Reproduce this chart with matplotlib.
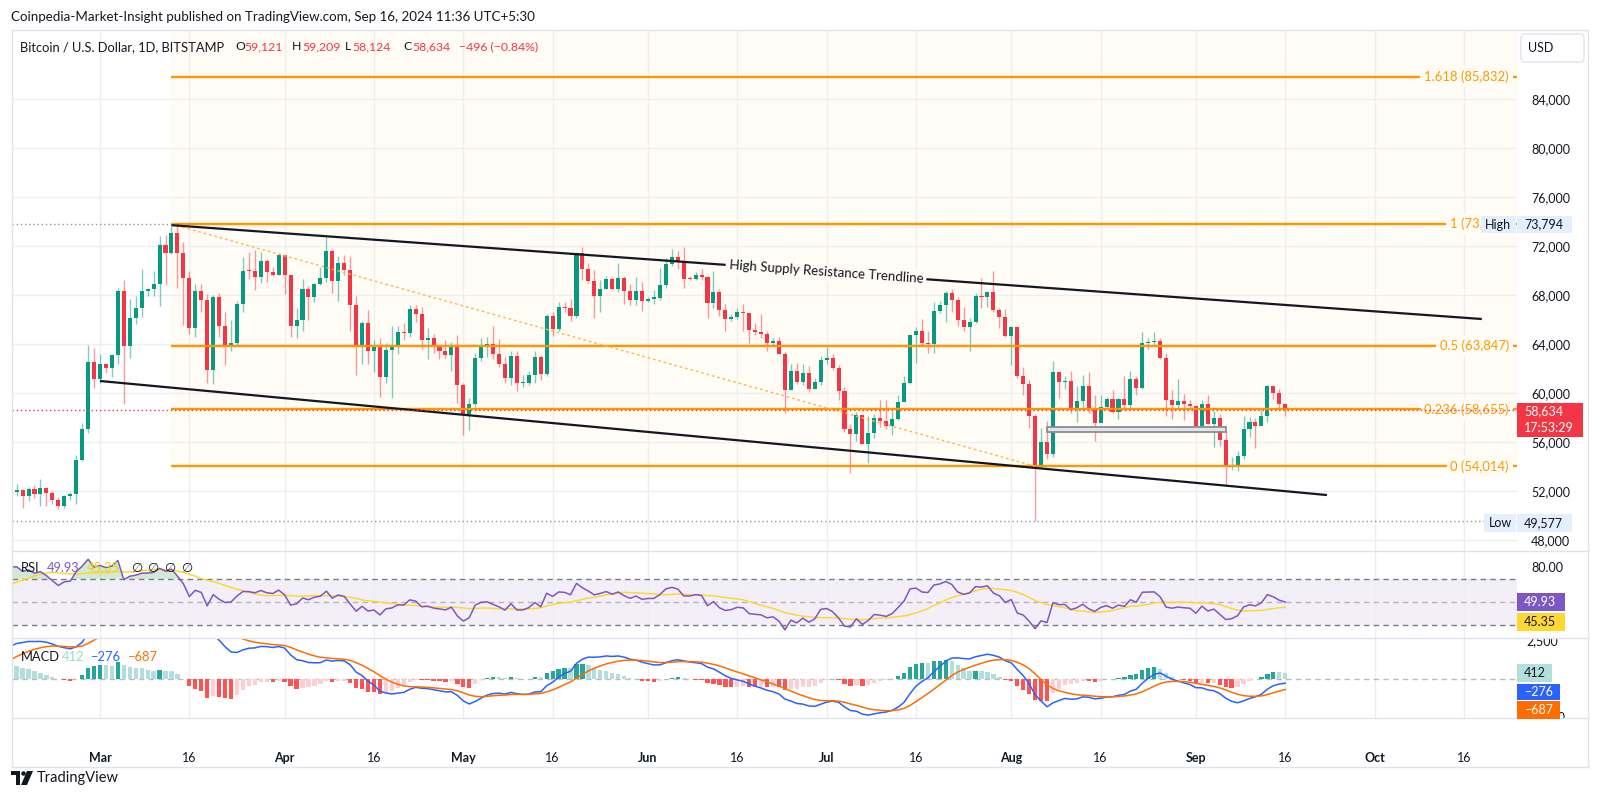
import numpy as np
import pandas as pd
import matplotlib
matplotlib.use("Agg")
import matplotlib.pyplot as plt
import matplotlib.dates as mdates
import matplotlib.transforms as mtransforms
from matplotlib.patches import Rectangle, Polygon, Ellipse, FancyBboxPatch
from matplotlib.lines import Line2D

plt.rcParams['font.family'] = ['Lato', 'DejaVu Sans']

# ---- data (BTC/USD daily, Bitstamp) ----
# closes Jan 1 - Feb 14 2024, only used to warm up RSI / MACD
warmup_close = [44180, 44950, 42850, 44180, 44160, 43970, 43930, 46970, 46120, 46660,
                46390, 42850, 42840, 41750, 42500, 43150, 42740, 41290, 41620, 41700,
                41580, 39550, 39900, 40100, 39950, 41800, 42120, 42030, 43300, 42950,
                42580,
                43080, 43200, 43000, 42580, 42700, 43100, 44340, 45300, 47150, 47770,
                48300, 49960, 49700, 51800]

# Feb 15 - Sep 16 2024
close = [51900, 52100, 51600, 52130, 51780, 52260, 51850, 51300, 50750, 51570, 51730, 54500, 57050, 62500, 61150,
         # Mar
         62400, 62030, 63130, 68300, 63800, 66100, 66900, 68300, 68450, 68900, 72100, 71450, 73050, 71400, 69400,
         65300, 68350, 67600, 61900, 67800, 65500, 63800, 64050, 67250, 70000, 69950, 69450, 70750, 69900, 69650, 71300,
         # Apr
         69650, 65450, 65970, 68500, 67840, 68900, 69360, 71620, 69150, 70580, 70060, 67200, 63850, 65740, 63420,
         63800, 61280, 63510, 63830, 64990, 64930, 66840, 66410, 64290, 64500, 63770, 63460, 63120, 63840, 60630,
         # May
         58250, 59120, 62890, 63890, 64030, 63160, 62330, 61190, 63050, 60790, 60800, 61450, 62900, 61550, 66250,
         65230, 67050, 66940, 66270, 71450, 70140, 69120, 67930, 68530, 69290, 68500, 69400, 68360, 67630, 68350, 67490,
         # Jun
         67710, 67750, 68800, 70570, 71080, 70760, 69340, 69300, 69650, 69500, 67320, 68240, 66750, 66010, 66190,
         66640, 66490, 65140, 64960, 64830, 64100, 64250, 63180, 60280, 61800, 60860, 61670, 60320, 60890, 62680,
         # Jul
         62850, 62030, 60200, 57050, 56660, 58230, 55850, 56700, 58000, 57750, 57340, 57900, 59230, 60800, 64720,
         65040, 64100, 63970, 66700, 67150, 68180, 67580, 65930, 65370, 65800, 67910, 67810, 68250, 66780, 66200, 64620,
         # Aug
         65360, 61420, 60700, 58120, 53990, 56030, 55030, 61710, 60880, 60940, 58710, 59350, 60600, 58740, 57560,
         58870, 59480, 58480, 59490, 59010, 61160, 60380, 64100, 64180, 64250, 62870, 59430, 59030, 59370, 59120, 58970,
         # Sep
         57300, 59130, 57480, 57970, 56160, 53950, 54160, 54840, 57040, 57650, 57340, 58130, 60570, 60000, 59121, 58634]

high = [52800, 52550, 52150, 52350, 52450, 52950, 52350, 52000, 51500, 51700, 51950, 54900, 57550, 63900, 63650,
        63150, 62450, 63200, 68550, 69200, 67650, 67900, 70150, 68550, 69950, 72800, 72900, 73650, 73794, 72350,
        70000, 68900, 68900, 68100, 68000, 68200, 66650, 65950, 67550, 71100, 71550, 71700, 71500, 70950, 70300, 71400,
        71300, 69650, 66900, 69300, 68700, 69000, 70300, 72700, 71750, 71200, 71250, 71200, 67900, 65850, 66800,
        64350, 64450, 64100, 65450, 65450, 65700, 67200, 67200, 67050, 65300, 64800, 63900, 64350, 64200, 64700,
        60800, 59600, 63300, 64500, 64600, 65500, 64400, 62950, 63450, 63450, 61500, 61800, 63400, 63100, 66450,
        66650, 67400, 67400, 67650, 71500, 71950, 70600, 70050, 69200, 69550, 69500, 70600, 69550, 68900, 69500, 69050,
        67850, 68400, 70200, 71050, 71750, 71600, 71950, 69550, 69900, 70150, 69550, 69950, 68450, 67300, 66450,
        66950, 67250, 66500, 65750, 66450, 65050, 64500, 64550, 63350, 62350, 62450, 62350, 62200, 61200, 63050,
        63750, 63200, 62250, 60500, 57500, 58450, 58250, 58150, 58250, 59450, 59400, 58500, 59800, 61400, 64850,
        65350, 66050, 65100, 67400, 67550, 68350, 68450, 67800, 67050, 66150, 68200, 69350, 68300, 70000, 66950, 66850,
        65500, 65100, 62100, 61100, 58300, 57150, 57700, 62650, 61700, 61400, 61800, 60600, 61500, 61750, 59800,
        59800, 59650, 60250, 59600, 61400, 61800, 61400, 64950, 64500, 65000, 64450, 63250, 60250, 61150, 59900, 59450,
        59050, 59450, 59800, 58500, 58300, 56950, 54800, 55300, 58100, 58050, 57950, 58600, 60650, 60600, 60350, 59209]

low = [51350, 51600, 50650, 51200, 51450, 50750, 50800, 50900, 50550, 50600, 51300, 50900, 54450, 56700, 60400,
       60800, 61600, 61300, 62400, 59100, 62850, 65600, 66200, 67900, 67950, 67100, 68850, 71350, 68600, 65550,
       64800, 64550, 66600, 60800, 60750, 64550, 62300, 63400, 63850, 66600, 69300, 68400, 68950, 69100, 69550, 69650,
       68100, 64550, 64500, 65100, 66000, 67450, 68850, 69100, 68200, 67500, 69600, 65100, 61500, 62400, 62350,
       61700, 59700, 60850, 59600, 63200, 64300, 64550, 65800, 63600, 62800, 63300, 62800, 62850, 61800, 59200,
       56550, 56950, 58850, 62600, 62950, 62750, 62100, 60850, 60650, 60200, 60450, 60650, 60800, 61100, 61350,
       64650, 65100, 66650, 65850, 66100, 69200, 68950, 66150, 66650, 68500, 68400, 68250, 67300, 67150, 67150, 66700,
       67450, 67300, 67600, 68600, 70400, 70150, 68550, 69200, 69200, 69250, 66100, 66900, 66300, 65100, 65900,
       66050, 65100, 64100, 64700, 64500, 63400, 63950, 63150, 58400, 60250, 60700, 60650, 60050, 60350, 60650,
       62350, 61850, 59450, 56800, 53500, 56050, 55800, 54300, 56300, 57200, 57050, 56600, 57800, 59300, 60700,
       62450, 63900, 63300, 63300, 66500, 65800, 66600, 65450, 65100, 63450, 65750, 66900, 67050, 66600, 65300, 64550,
       62300, 61250, 59850, 57150, 49577, 54000, 54600, 54750, 59600, 60300, 58400, 57650, 58500, 58400, 56100,
       57750, 58800, 58400, 57850, 58600, 58800, 59800, 60350, 63600, 63800, 62750, 58100, 57900, 58800, 57800, 58750,
       57200, 57150, 57450, 55600, 55700, 52550, 53750, 53650, 54600, 56400, 55550, 57350, 57650, 59500, 58700, 58124]

dates = pd.date_range('2024-02-15', periods=len(close), freq='D')

fib_names = ['1.618', '1', '0.5', '0.236', '0']
fib_prices = [85832, 73794, 63847, 58655, 54014]
fib_start = '2024-03-13'
fib_diag = (('2024-03-13', 73794), ('2024-08-05', 54014))

upper_trend = (('2024-03-13', 73700), ('2024-10-19', 66040))
lower_trend = (('2024-03-01', 60980), ('2024-09-23', 51670))
support_box = ('2024-08-07', '2024-09-06', 56820, 57230)

price_ticks = list(range(48000, 84001, 4000))
tick_days = ['2024-03-01', '2024-03-16', '2024-04-01', '2024-04-16', '2024-05-01', '2024-05-16',
             '2024-06-01', '2024-06-16', '2024-07-01', '2024-07-16', '2024-08-01', '2024-08-16',
             '2024-09-01', '2024-09-16', '2024-10-01', '2024-10-16']
tick_labels = ['Mar', '16', 'Apr', '16', 'May', '16', 'Jun', '16', 'Jul', '16', 'Aug', '16',
               'Sep', '16', 'Oct', '16']

high_val, low_val, last_val = 73794, 49577, 58634

# ---- colours ----
UP, DN = '#089981', '#f23645'
ORANGE = '#ff9800'
CREAM = '#fffcf5'
GRID = '#eeeeee'
TXT = '#131722'
FRAME = '#e0e3eb'

# ---- indicators ----
all_close = np.array(warmup_close + close, dtype=float)
nw = len(warmup_close)
delta = np.diff(all_close)
gain = np.clip(delta, 0, None)
loss = np.clip(-delta, 0, None)


def rma(x, n):
    out = np.full(len(x), np.nan)
    out[n - 1] = x[:n].mean()
    for i in range(n, len(x)):
        out[i] = (out[i - 1] * (n - 1) + x[i]) / n
    return out


rsi_full = 100 - 100 / (1 + rma(gain, 14) / rma(loss, 14))
rsi_full = np.concatenate([[np.nan], rsi_full])
rsi_ma_full = pd.Series(rsi_full).rolling(14).mean().values
s = pd.Series(all_close)
macd_full = (s.ewm(span=12, adjust=False).mean() - s.ewm(span=26, adjust=False).mean()).values
sig_full = pd.Series(macd_full).ewm(span=9, adjust=False).mean().values
hist_full = macd_full - sig_full

rsi = rsi_full[nw:]
rsi_ma = rsi_ma_full[nw:]
macd = macd_full[nw:]
sig = sig_full[nw:]
hist = hist_full[nw:]
hprev = hist_full[nw - 1:-1]

opn = all_close[nw - 1:-1]
c = np.array(close, float)
hi = np.array(high, float)
lo = np.array(low, float)

# ---- figure / layout ----
W, H = 1600, 796
fig = plt.figure(figsize=(W / 100, H / 100), dpi=100)
fig.patch.set_facecolor('white')


def fx(px):
    return px / W


def fy(py):
    return 1 - py / H


L, R = 12, 1517
ax = fig.add_axes([fx(L), fy(551), fx(R) - fx(L), fy(30) - fy(551)])
ax_rsi = fig.add_axes([fx(L), fy(638), fx(R) - fx(L), fy(551) - fy(638)], sharex=ax)
ax_macd = fig.add_axes([fx(L), fy(718), fx(R) - fx(L), fy(638) - fy(718)], sharex=ax)

xd = mdates.date2num(dates)
mar1 = mdates.date2num(pd.Timestamp('2024-03-01'))
ppd = 5.956  # pixels per day


def px2x(px):
    return mar1 + (px - 100) / ppd


def d2x(d):
    return mdates.date2num(pd.Timestamp(d))


xmin, xmax = px2x(L), px2x(R)
ymin, ymax = 47102, 89633
for a in (ax, ax_rsi, ax_macd):
    a.set_xlim(xmin, xmax)
    for sp in a.spines.values():
        sp.set_visible(False)
    a.tick_params(left=False, bottom=False, right=False, labelleft=False, labelbottom=False)
ax.set_ylim(ymin, ymax)
ax_rsi.set_ylim(18.7, 94.3)
ax_macd.set_ylim(-2566, 2697)

tick_x = [d2x(d) for d in tick_days]
for a in (ax, ax_rsi, ax_macd):
    for t in tick_x:
        a.axvline(t, color=GRID, lw=1, zorder=0.5)
for p in price_ticks:
    ax.axhline(p, color=GRID, lw=1, zorder=0.5)

# fib background + levels
ax.fill_between([d2x(fib_start), xmax], fib_prices[-1], ymax, color=CREAM, lw=0, zorder=0.2)
ax.axhline(high_val, color='#9598a1', lw=1, ls=(0, (1, 2)), zorder=2)
ax.axhline(low_val, color='#9598a1', lw=1, ls=(0, (1, 2)), zorder=2)

# candles
up = c >= opn
col = np.where(up, UP, DN)
ax.vlines(xd, lo, hi, colors=col, lw=1, alpha=0.5, zorder=3)
ax.bar(xd, np.maximum(np.abs(c - opn), 90), bottom=np.minimum(opn, c), width=0.68,
       color=col, lw=0, zorder=4)

ax.hlines(fib_prices, d2x(fib_start), xmax, color=ORANGE, lw=1.7, zorder=5)
(dx0, dp0), (dx1, dp1) = fib_diag
ax.plot([d2x(dx0), d2x(dx1)], [dp0, dp1], color='#ffb74d', lw=1, ls=(0, (2, 2)), zorder=5)

# labels sit in the chart; the "1" label runs under the High tag and is cut there
for name, p in zip(fib_names, fib_prices):
    right_edge = 1481 if p == high_val else 1517
    fib_clip = mtransforms.TransformedBbox(
        mtransforms.Bbox.from_extents(fx(12), fy(551), fx(right_edge), fy(30)), fig.transFigure)
    t = ax.text(px2x(1509), p, f'{name} ({p:,})', ha='right', va='center', color=ORANGE,
                fontsize=9.4, zorder=6,
                bbox=dict(boxstyle='square,pad=0.3', fc=CREAM, ec='none'))
    t.set_clip_path(None)
    t.set_clip_box(fib_clip)
    t.set_clip_on(True)

# trend lines
for (d0, p0), (d1, p1) in (upper_trend, lower_trend):
    ax.plot([d2x(d0), d2x(d1)], [p0, p1], color=TXT, lw=1.6, zorder=6, solid_capstyle='butt')
(u0, up0), (u1, up1) = upper_trend
a0 = ax.transData.transform((d2x(u0), up0))
a1 = ax.transData.transform((d2x(u1), up1))
ang = np.degrees(np.arctan2(a1[1] - a0[1], a1[0] - a0[0]))
tx = px2x(826)
ty = up0 + (tx - d2x(u0)) * (up1 - up0) / (d2x(u1) - d2x(u0))
ax.text(tx, ty, 'High Supply Resistance Trendline', rotation=ang, rotation_mode='anchor',
        ha='center', va='center', fontsize=9.5, color=TXT, zorder=7,
        bbox=dict(boxstyle='square,pad=0.25', fc=CREAM, ec='none'))

b0, b1, bp0, bp1 = support_box
ax.add_patch(Rectangle((d2x(b0), bp0), d2x(b1) - d2x(b0), bp1 - bp0, fc='#e3e4e8',
                       ec='#8a8d96', lw=1.3, zorder=6))

ax.axhline(last_val, color=DN, lw=1, ls=(0, (1, 2)), zorder=8)

ax.yaxis.tick_right()
ax.set_yticks(price_ticks)
ax.set_yticklabels([f'{p:,}' for p in price_ticks])
ax.tick_params(axis='y', right=False, labelright=True, pad=6.5, labelsize=9, labelcolor=TXT)

# RSI panel
ax_rsi.axhspan(30, 70, color='#7e57c2', alpha=0.09, lw=0, zorder=0.3)
for lvl, al in ((70, 1), (50, 0.5), (30, 1)):
    ax_rsi.axhline(lvl, color='#787b86', lw=1, ls=(0, (4, 3)), alpha=al, zorder=1)
ax_rsi.fill_between(xd, 70, rsi, where=rsi > 70, interpolate=True, color='#4caf50', alpha=0.25, lw=0)
ax_rsi.fill_between(xd, 30, rsi, where=rsi < 30, interpolate=True, color='#f23645', alpha=0.25, lw=0)
ax_rsi.plot(xd, rsi_ma, color='#fdd835', lw=1.1, zorder=3)
ax_rsi.plot(xd, rsi, color='#7e57c2', lw=1.1, zorder=4)
ax_rsi.yaxis.tick_right()
ax_rsi.set_yticks([80])
ax_rsi.set_yticklabels(['80.00'])
ax_rsi.tick_params(axis='y', right=False, labelright=True, pad=6.5, labelsize=9, labelcolor=TXT)

# MACD panel
hcol = np.where(hist >= 0, np.where(hist >= hprev, '#26a69a', '#b2dfdb'),
                np.where(hist < hprev, '#ff5252', '#ffcdd2'))
ax_macd.axhline(0, color='#787b86', lw=1, ls=(0, (4, 3)), alpha=0.5, zorder=1)
ax_macd.bar(xd, hist, width=0.72, color=hcol, lw=0, zorder=2)
ax_macd.plot(xd, macd, color='#2962ff', lw=1.1, zorder=3)
ax_macd.plot(xd, sig, color='#ff6d00', lw=1.1, zorder=3)

ax_macd.set_xticks(tick_x)
ax_macd.set_xticklabels(tick_labels)
ax_macd.tick_params(axis='x', bottom=False, labelbottom=True, pad=21, labelsize=9, labelcolor=TXT)
for lbl in ax_macd.get_xticklabels():
    if not lbl.get_text().isdigit():
        lbl.set_fontweight('bold')


def vpy(a, v):
    """value -> pixel row (from top) in panel a"""
    return H - a.transData.transform((xmin, v))[1]


# clipped macd axis labels
clip = mtransforms.TransformedBbox(mtransforms.Bbox.from_extents(fx(1517), fy(718), fx(1590), fy(638)),
                                   fig.transFigure)
for v, s_ in ((2500, '2,500'), (-2500, '\u22122,500')):
    t = fig.text(fx(1526), fy(vpy(ax_macd, v)), s_, fontsize=9, color=TXT, va='center')
    t.set_clip_box(clip)
    t.set_clip_on(True)


def badge(x0, x1, y0, y1, fc, lines, tc, tx=None, fs=9):
    fig.add_artist(Rectangle((fx(x0), fy(y1)), fx(x1) - fx(x0), (y1 - y0) / H,
                             transform=fig.transFigure, fc=fc, ec='none', zorder=10))
    n = len(lines)
    for i, ln in enumerate(lines):
        yy = y0 + (y1 - y0) * (i + 0.5) / n
        fig.text(fx(tx if tx else x0 + 8), fy(yy), ln, color=tc, fontsize=fs, va='center', zorder=11)


yh = vpy(ax, high_val)
badge(1481, 1516, yh - 8, yh + 9, '#e3effd', ['High'], TXT, tx=1485)
badge(1517, 1572, yh - 8, yh + 9, '#e3effd', ['73,794'], TXT, tx=1524)
yl = vpy(ax, low_val)
badge(1484, 1516, yl - 7, yl + 11, '#e3effd', ['Low'], TXT, tx=1489)
badge(1517, 1572, yl - 7, yl + 11, '#e3effd', ['49,577'], TXT, tx=1524)
yp = vpy(ax, last_val)
badge(1517, 1583, yp - 7, yp + 27, DN, ['58,634', '17:53:29'], 'white', tx=1524)

yr = vpy(ax_rsi, 49.93)
badge(1517, 1565, yr - 9, yr + 9, '#7e57c2', ['49.93'], 'white', tx=1524)
badge(1517, 1565, yr + 11, yr + 29, '#fdd835', ['45.35'], TXT, tx=1524)
ym = vpy(ax_macd, 412)
badge(1517, 1552, ym - 9, ym + 9, '#b2dfdb', ['412'], TXT, tx=1524)
badge(1517, 1560, ym + 11, ym + 27, '#2962ff', ['\u2212276'], 'white', tx=1524)
badge(1517, 1560, ym + 28, ym + 46, '#ff6d00', ['\u2212687'], 'white', tx=1524)

# frame and separators
pix = mtransforms.Affine2D().scale(1 / W, -1 / H).translate(0, 1) + fig.transFigure
for (x0, y0, x1, y1) in ((12, 30, 1588, 30), (12, 767, 1588, 767), (12, 30, 12, 767),
                         (1588, 30, 1588, 767), (12, 551, 1588, 551), (12, 638, 1588, 638),
                         (12, 718, 1588, 718)):
    fig.add_artist(Line2D([x0, x1], [y0, y1], transform=pix, color=FRAME, lw=1, zorder=9))

fig.add_artist(FancyBboxPatch((1521, 34), 63, 28, boxstyle='round,pad=0,rounding_size=4',
                              transform=pix, fc='white', ec=FRAME, lw=1, zorder=10))
fig.text(fx(1528), fy(48), 'USD', fontsize=9, color=TXT, va='center', zorder=11)

# header
fig.text(fx(11), fy(17), 'Coinpedia-Market-Insight published on TradingView.com, Sep 16, 2024 11:36 UTC+5:30',
         fontsize=9.6, color=TXT, va='center')
fig.text(fx(20), fy(47), 'Bitcoin / U.S. Dollar, 1D, BITSTAMP', fontsize=9.3, color=TXT, va='center', zorder=11)
for x_, s_, cc in ((235, 'O', TXT), (244, '59,121', DN), (292, 'H', TXT), (302, '59,209', DN),
                   (345, 'L', TXT), (352, '58,124', DN), (403, 'C', TXT), (412, '58,634', DN),
                   (459, '\u2212496 (\u22120.84%)', DN)):
    fig.text(fx(x_), fy(47), s_, fontsize=8.8, color=cc, va='center', zorder=11)

# indicator legends
for x_, s_, cc in ((21, 'RSI', TXT), (47, '49.93', '#7e57c2'), (87, '45.35', '#f5d000'),
                   (131, '\u2205', TXT), (147, '\u2205', TXT), (164, '\u2205', TXT), (181, '\u2205', TXT)):
    fig.text(fx(x_), fy(568), s_, fontsize=9.3, color=cc, va='center', zorder=11)
for x_, s_, cc in ((21, 'MACD', TXT), (62, '412', '#9fd6d0'), (90, '\u2212276', '#2962ff'),
                   (127, '\u2212687', '#ff6d00')):
    fig.text(fx(x_), fy(657), s_, fontsize=9.3, color=cc, va='center', zorder=11)

# TradingView logo
fig.add_artist(Rectangle((11, 771), 9, 4, transform=pix, fc=TXT, ec='none'))
fig.add_artist(Rectangle((15.5, 771), 4.5, 14, transform=pix, fc=TXT, ec='none'))
fig.add_artist(Ellipse((23.5, 773.5), 4.5, 4.5, transform=pix, fc=TXT, ec='none'))
fig.add_artist(Polygon([(27, 771), (33, 771), (27, 785), (21, 785)], closed=True, transform=pix,
                       fc=TXT, ec='none'))
fig.text(fx(37), fy(778), 'TradingView', fontsize=10.5, color=TXT, va='center')

fig.savefig('out.png', dpi=100, facecolor='white')
